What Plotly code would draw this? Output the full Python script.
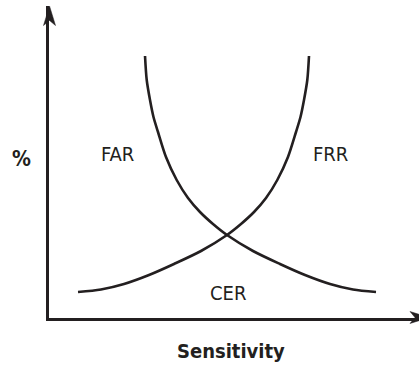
import plotly.graph_objects as go

# Sensitivity (0-100) against error rate (%) for the two error curves
far_x = [25.95, 26.41, 27.30, 28.24, 29.46, 31.62, 34.51, 37.57, 40.81, 44.32,
         48.11, 55.14, 62.43, 69.19, 75.95, 82.16, 88.38]
far_y = [83.97, 76.28, 69.87, 64.42, 59.62, 51.60, 44.23, 38.46, 33.97, 30.13,
         26.60, 21.47, 17.31, 13.78, 10.90, 9.13, 8.33]

frr_x = [7.84, 14.05, 20.27, 27.03, 33.78, 41.08, 48.11, 51.89, 55.41, 58.65,
         61.70, 64.59, 66.76, 67.97, 68.92, 69.81, 70.27]
frr_y = [8.33, 9.13, 10.90, 13.78, 17.31, 21.47, 26.60, 30.13, 33.97, 38.46,
         44.23, 51.60, 59.62, 64.42, 69.87, 76.28, 83.97]

labels = ["FAR", "FRR", "CER"]
label_x = [18.6, 76.2, 48.4]
label_y = [52.6, 52.6, 7.9]

x_title = "Sensitivity"
y_title = "%"

INK = "#231f20"
FONT = "DejaVu Sans Condensed, Liberation Sans Narrow, Arial Narrow, Liberation Sans, sans-serif"

fig = go.Figure()
for xs, ys, name in [(far_x, far_y, "FAR"), (frr_x, frr_y, "FRR")]:
    fig.add_trace(go.Scatter(
        x=xs, y=ys, name=name, mode="lines",
        line=dict(color=INK, width=2.6, shape="spline", smoothing=0.8),
        hoverinfo="skip", showlegend=False,
    ))

# Curve labels
for t, x, y in zip(labels, label_x, label_y):
    fig.add_annotation(x=x, y=y, text=t, showarrow=False,
                       font=dict(family=FONT, size=20, color=INK),
                       xanchor="center", yanchor="middle")

# Axis titles
fig.add_annotation(xref="x", yref="paper", x=49.2, y=-0.106, text=f"<b>{x_title}</b>",
                   showarrow=False, font=dict(family=FONT, size=20, color=INK),
                   xanchor="center", yanchor="middle")
fig.add_annotation(xref="paper", yref="y", x=-0.073, y=51, text=f"<b>{y_title}</b>",
                   showarrow=False, font=dict(family=FONT, size=21, color=INK),
                   xanchor="center", yanchor="middle")

# Arrowheads on the axis ends (paper coordinates, plot area 370 x 312 px)
W, H = 370.0, 312.0
def p(px, py):
    return f"{(px - 49) / W:.4f},{(318 - py) / H:.4f}"

y_head = f"M {p(49.5, 6)} L {p(55.5, 25.5)} L {p(49.5, 20.5)} L {p(43.5, 25.5)} Z"
x_head = f"M {p(429, 317.5)} L {p(410, 323.5)} L {p(415, 317.5)} L {p(410, 311.5)} Z"
for path in (y_head, x_head):
    fig.add_shape(type="path", xref="paper", yref="paper", path=path,
                  fillcolor=INK, line=dict(color=INK, width=0.5))

axis_style = dict(showline=True, linecolor=INK, linewidth=2.6, showgrid=False,
                  zeroline=False, showticklabels=False, ticks="", mirror=False)
fig.update_xaxes(range=[0, 100], **axis_style)
fig.update_yaxes(range=[0, 100], **axis_style)

fig.update_layout(
    width=419, height=366,
    margin=dict(l=49, r=0, t=6, b=48),
    plot_bgcolor="white", paper_bgcolor="white",
)

fig.write_html("out.html")
